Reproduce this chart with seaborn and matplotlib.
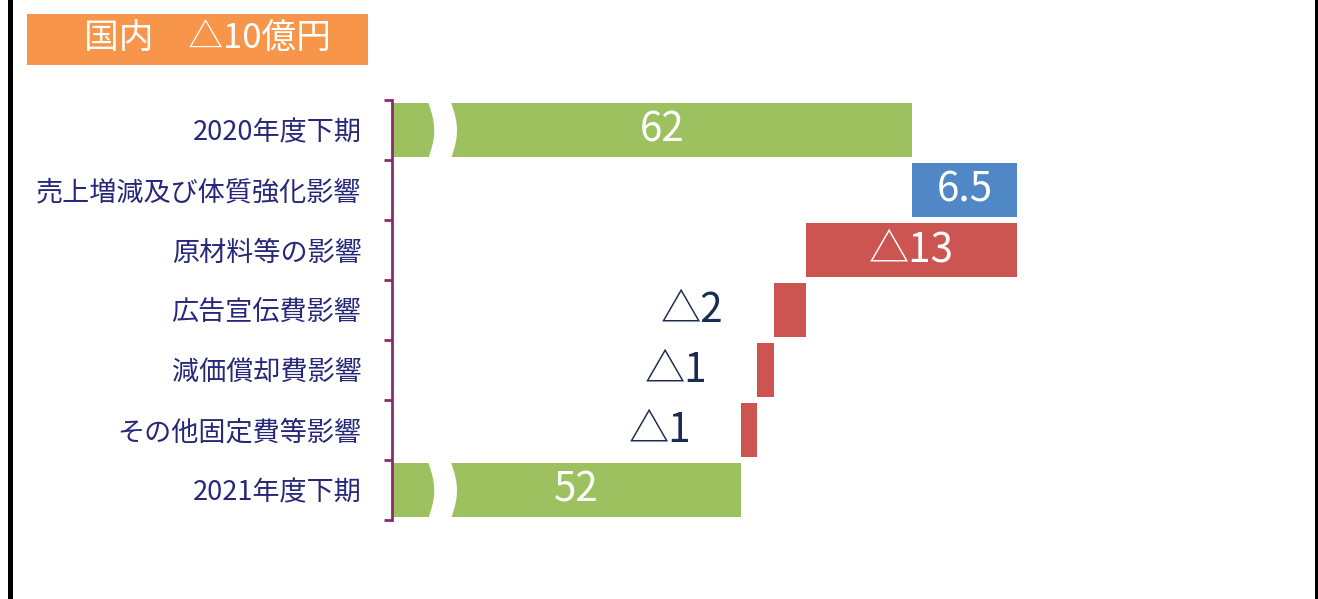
import numpy as np
import pandas as pd
import seaborn as sns
import matplotlib.pyplot as plt
from matplotlib.patches import Rectangle

# data (国内, 10億円)
categories = ["2020年度下期", "売上増減及び体質強化影響", "原材料等の影響",
              "広告宣伝費影響", "減価償却費影響", "その他固定費等影響", "2021年度下期"]
values = [62, 6.5, -13, -2, -1, -1, 51.5]
kinds = ["total", "step", "step", "step", "step", "step", "total"]
value_labels = ["62", "6.5", "△13", "△2", "△1", "△1", "52"]
title = "国内　△10億円"

GREEN = "#9DC15E"
BLUE = "#4F87C7"
RED = "#CC5552"
NAVY_CAT = "#28287A"
NAVY_VAL = "#1C2B50"
AXIS_COL = "#8B2D6B"
ORANGE = "#F7964A"

XMIN, XMAX = 30, 85.9
BREAK_AT, BREAK_GAP = 32.2, 1.4

# waterfall geometry
starts, widths, colors = [], [], []
running = 0
for v, k in zip(values, kinds):
    if k == "total":
        starts.append(0)
        widths.append(v)
        colors.append(GREEN)
        running = v
    else:
        starts.append(min(running, running + v))
        widths.append(abs(v))
        colors.append(BLUE if v > 0 else RED)
        running += v

df = pd.DataFrame({"category": categories, "width": widths, "start": starts})

sns.set_style("white")
plt.rcParams['font.family'] = ['Noto Sans CJK JP', 'DejaVu Sans']

fig = plt.figure(figsize=(13.18, 5.99), dpi=100)
ax = fig.add_axes([392 / 1318, 79 / 599, 908 / 1318, 420 / 599])

sns.barplot(data=df, x="width", y="category", hue="category", palette=colors,
            orient="h", width=0.9, saturation=1, legend=False, ax=ax)

# move each bar to its waterfall start
for patch, s in zip(ax.patches, starts):
    patch.set_x(s)
    patch.set_linewidth(0)

ax.set_xlim(XMIN, XMAX)
ax.set_ylim(len(categories) - 0.5, -0.5)

# wavy break on the total bars
t = np.linspace(0, 1, 60)
for i, k in enumerate(kinds):
    if k == "total":
        yy = i - 0.47 + 0.94 * t
        xl = BREAK_AT + 0.37 * np.sin(np.pi * t)
        ax.fill_betweenx(yy, xl, xl + BREAK_GAP, color="white", lw=0, zorder=3)

# value labels
for i, (v, k, lab) in enumerate(zip(values, kinds, value_labels)):
    if k == "total":
        ax.text((XMIN + widths[i]) / 2 + 0.6, i, lab, color="white", fontsize=29,
                ha="center", va="center", zorder=4)
    elif abs(v) >= 5:
        ax.text(starts[i] + widths[i] / 2, i, lab, color="white", fontsize=29,
                ha="center", va="center", zorder=4)
    else:
        ax.annotate(lab, (starts[i], i), xytext=(-36, 0), textcoords="offset points",
                    color=NAVY_VAL, fontsize=29, ha="right", va="center")

# axes styling
for side in ["top", "right", "bottom"]:
    ax.spines[side].set_visible(False)
ax.spines["left"].set_color(AXIS_COL)
ax.spines["left"].set_linewidth(2)
ax.set_xticks([])
ax.set_yticks(range(len(categories)))
ax.set_yticklabels(categories, color=NAVY_CAT, fontsize=19.5)
ax.set_yticks(np.arange(-0.5, len(categories)), minor=True)
ax.tick_params(axis="y", which="major", left=True, length=0, pad=22)
ax.tick_params(axis="y", which="minor", left=True, length=6, width=2,
               color=AXIS_COL, direction="out")
ax.set_xlabel("")
ax.set_ylabel("")

# orange title box
fig.add_artist(Rectangle((27 / 1318, 534 / 599), 341 / 1318, 51 / 599,
                         transform=fig.transFigure, color=ORANGE, lw=0))
fig.text(207 / 1318, 559.5 / 599, title, color="white", fontsize=25,
         ha="center", va="center")

# black frame edges
fig.add_artist(Rectangle((8 / 1318, 0), 5 / 1318, 1, transform=fig.transFigure,
                         color="black", lw=0))
fig.add_artist(Rectangle((1315 / 1318, 0), 3 / 1318, 1, transform=fig.transFigure,
                         color="black", lw=0))

fig.savefig("out.png", dpi=100, facecolor="white")
